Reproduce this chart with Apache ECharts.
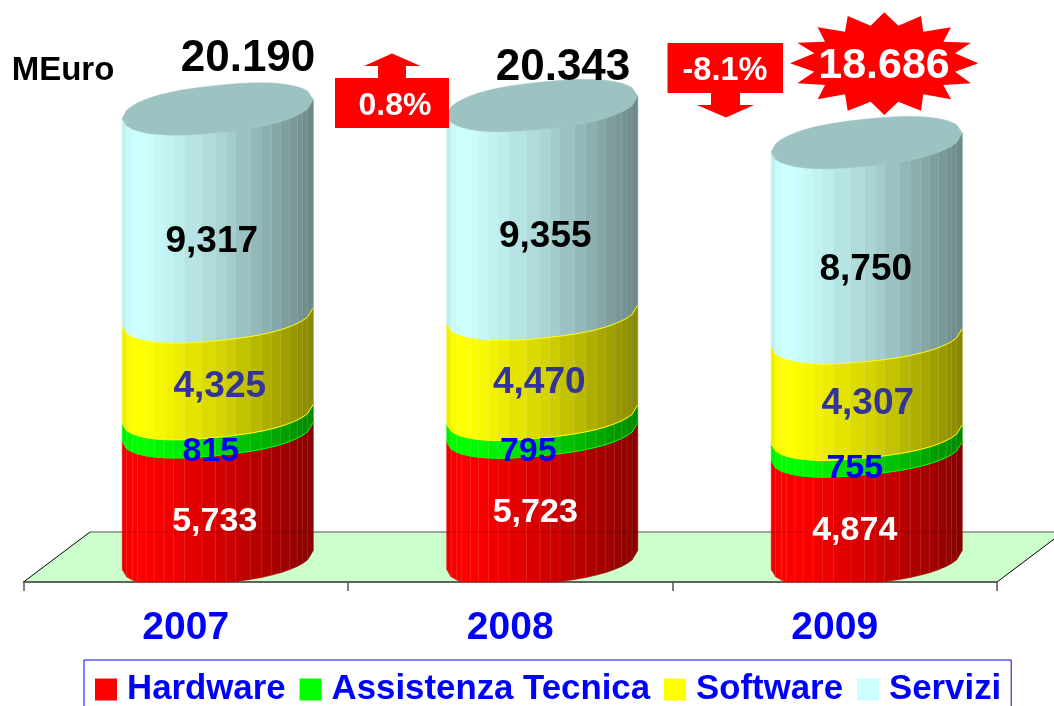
<!DOCTYPE html>
<html>
<head>
<meta charset="utf-8">
<title>MEuro 2007-2009</title>
<script src="https://cdn.jsdelivr.net/npm/echarts@6/dist/echarts.min.js"></script>
<style>
  html, body { margin: 0; padding: 0; background: #fff; overflow: hidden; }
  #main { width: 1054px; height: 706px; }
</style>
</head>
<body>
<div id="main"></div>
<script>
// data
const years = ['2007', '2008', '2009'];
const hardware = [5733, 5723, 4874];
const assistenza = [815, 795, 755];
const software = [4325, 4470, 4307];
const servizi = [9317, 9355, 8750];
const layerNames = ['Hardware', 'Assistenza Tecnica', 'Software', 'Servizi'];
const totals = ['20.190', '20.343', '18.686'];
const changes = ['0.8%', '-8.1%'];

// look of the layers
const FONT = '"Liberation Sans", Arial, sans-serif';
const layerColors = [[255, 0, 0], [0, 255, 0], [255, 255, 0], [204, 255, 255]];
const legendColors = ['#FF0000', '#00FF00', '#FFFF00', '#CCFFFF'];
const edgeColors = ['#FF0000', '#00FF00', '#FFFF00', '#FFFF00'];
const labelColors = ['#FFFFFF', '#0000FF', '#333399', '#000000'];
const labelSizes = [34, 34, 37, 37];
// the labels were placed by hand in the original: dx, dy per layer and year
const labelNudge = [
  [[-3, 1], [-7, 4], [2, -3], [-6, 4]],
  [[-7, -8], [-14, 4], [-3, -6], [3, 2]],
  [[-12, 1], [-12, 1], [1, -7], [-1, 5]]
];
const textDrop = 2.5; // Liberation sits a bit high with middle alignment

// fake 3d: cylinder sits behind the axis plane
const depthX = 32, depthY = -22;
const radiusX = 95.5, radiusY = 23.5, tilt = 9.5, roundness = 2.5;
const floorX = 66.5, floorY = -50;
const facetEdges = [367, 380, 397, 412, 438, 462, 492, 520, 553, 605, 645, 677, 705, 749, 782, 813, 840, 867, 889, 905, 920, 937]
  .map(v => (v - 367) / 570);
const shadeStops = [[0, 0.92], [0.05, 1], [0.12, 1], [0.5, 0.84], [0.75, 0.69], [1, 0.53]];

function shade (u) {
  for (let i = 1; i < shadeStops.length; i++) {
    if (u <= shadeStops[i][0]) {
      const a = shadeStops[i - 1], b = shadeStops[i];
      return a[1] + (b[1] - a[1]) * (u - a[0]) / (b[0] - a[0]);
    }
  }
  return 1;
}

function facetColor (rgb, u) {
  const k = shade(u);
  return 'rgb(' + rgb.map(c => Math.round(c * k)).join(',') + ')';
}

// points along one half of the tilted, slightly squared ellipse
function arc (cx, cy, side, maxY) {
  return facetEdges.map(u => {
    const c = 2 * u - 1;
    const round = Math.sqrt(1 - Math.pow(Math.abs(c), roundness));
    const y = cy + side * radiusY * round - tilt * c;
    return [cx + radiusX * c, Math.min(y, maxY)];
  });
}

function layerRenderer (layer) {
  return function (params, api) {
    const i = api.value(0);
    const from = api.value(1), to = api.value(2);
    const base = api.coord([i, from]);
    const top = api.coord([i, to]);
    const axisY = api.coord([i, 0])[1];
    const cx = base[0] + depthX;
    const lower = arc(cx, base[1] + depthY, 1, axisY);
    const upper = arc(cx, top[1] + depthY, 1, axisY);
    const children = [];

    for (let f = 0; f < facetEdges.length - 1; f++) {
      const fill = facetColor(layerColors[layer], (facetEdges[f] + facetEdges[f + 1]) / 2);
      children.push({
        type: 'polygon',
        shape: { points: [upper[f], upper[f + 1], lower[f + 1], lower[f]] },
        style: { fill: fill, stroke: fill, lineWidth: 0.6 },
        silent: true
      });
      if (f > 0) {
        children.push({
          type: 'line',
          shape: { x1: upper[f][0], y1: upper[f][1], x2: lower[f][0], y2: lower[f][1] },
          style: { stroke: '#fff', lineWidth: 1, opacity: 0.09 },
          z2: 2,
          silent: true
        });
      }
    }

    if (layer > 0) {
      children.push({
        type: 'polyline',
        shape: { points: lower },
        style: { stroke: edgeColors[layer], lineWidth: 1, fill: 'none' },
        z2: 3,
        silent: true
      });
    } else {
      // back edge of the floor shows faintly through the red part
      const backY = axisY + floorY;
      children.push({
        type: 'line',
        shape: { x1: cx - radiusX, y1: backY, x2: cx + radiusX, y2: backY },
        style: { stroke: '#000', lineWidth: 1, opacity: 0.15 },
        z2: 3,
        silent: true
      });
    }

    if (layer === layerNames.length - 1) {
      const back = arc(cx, top[1] + depthY, -1, axisY);
      children.push({
        type: 'polygon',
        shape: { points: upper.concat(back.slice().reverse()) },
        style: { fill: '#9CC2C1', stroke: '#9CC2C1', lineWidth: 0.6 },
        z2: 4,
        silent: true
      });
    }

    const nudge = labelNudge[i][layer];
    children.push({
      type: 'text',
      x: cx + nudge[0],
      y: api.coord([i, (from + to) / 2])[1] + nudge[1] + textDrop,
      style: {
        text: (to - from).toLocaleString('en-US'),
        fill: labelColors[layer],
        font: 'bold ' + labelSizes[layer] + 'px ' + FONT,
        align: 'center',
        verticalAlign: 'middle'
      },
      z2: 100,
      silent: true
    });
    return { type: 'group', children: children };
  };
}

function floorRenderer (params) {
  const g = params.coordSys;
  const y0 = g.y + g.height;
  const x0 = g.x, x1 = g.x + g.width;
  return {
    type: 'group',
    children: [
      {
        type: 'polygon',
        shape: { points: [[x0, y0], [x0 + floorX, y0 + floorY], [x1 + floorX, y0 + floorY], [x1, y0]] },
        style: { fill: '#CCFFCC' },
        silent: true
      },
      {
        type: 'line',
        shape: { x1: x0 + floorX, y1: y0 + floorY, x2: x1 + floorX, y2: y0 + floorY },
        style: { stroke: '#555', lineWidth: 1.2 },
        silent: true
      },
      {
        type: 'line',
        shape: { x1: x0, y1: y0, x2: x0 + floorX, y2: y0 + floorY },
        style: { stroke: '#000', lineWidth: 1 },
        silent: true
      },
      {
        type: 'line',
        shape: { x1: x1, y1: y0, x2: x1 + floorX, y2: y0 + floorY },
        style: { stroke: '#000', lineWidth: 1 },
        silent: true
      }
    ]
  };
}

const layerValues = [hardware, assistenza, software, servizi];
const running = years.map(() => 0);
const layerSeries = layerNames.map((name, layer) => ({
  name: name,
  type: 'custom',
  coordinateSystem: 'cartesian2d',
  clip: false,
  z: 2,
  itemStyle: { color: legendColors[layer] },
  encode: { x: 0, y: [1, 2] },
  renderItem: layerRenderer(layer),
  data: years.map((y, i) => {
    const start = running[i];
    running[i] += layerValues[layer][i];
    return [i, start, running[i]];
  })
}));

function bigText (text, x, y, size, color) {
  return {
    type: 'text',
    x: x,
    y: y + textDrop,
    z: 20,
    silent: true,
    style: {
      text: text,
      fill: color,
      font: 'bold ' + size + 'px ' + FONT,
      align: 'center',
      verticalAlign: 'middle'
    }
  };
}

function redShape (points) {
  return { type: 'polygon', z: 10, silent: true, shape: { points: points }, style: { fill: '#FF0000' } };
}

// callouts and totals are annotations sitting on top of the chart
const annotations = [
  bigText('MEuro', 63, 68.5, 33, '#000'),
  bigText(totals[0], 248, 56, 44, '#000'),
  bigText(totals[1], 563, 65, 44, '#000'),
  redShape([[335, 78], [378, 78], [378, 66], [364, 66], [392, 53.5], [420.5, 66], [406, 66], [406, 78], [449, 78], [449, 128], [335, 128]]),
  bigText(changes[0], 395, 104, 32, '#fff'),
  redShape([[667.5, 43], [783, 43], [783, 93], [740, 93], [740, 105], [754, 105], [726, 117.5], [697, 105], [711, 105], [711, 93], [667.5, 93]]),
  bigText(changes[1], 725, 69, 32.5, '#fff'),
  redShape([
    [884.3, 12.3], [898.3, 25.7], [921, 16], [923.3, 31.7], [951, 27.3], [943.3, 41.7], [971, 42.7], [955, 53.3],
    [978.3, 63.3], [955, 71.7], [971, 83.3], [943.3, 85], [951, 99.3], [923.3, 94.3], [921, 110.7], [898.3, 101.7],
    [884.3, 115], [870.7, 101.7], [847.7, 110.7], [845, 94.3], [817.7, 99.3], [825, 85], [797.3, 83.3], [814.3, 71.7],
    [790, 63.3], [814.3, 53.3], [797.3, 42.7], [825, 41.7], [817.7, 27.3], [845, 31.7], [847.7, 16], [870.7, 25.7]
  ]),
  bigText(totals[2], 884, 64, 43, '#fff')
];

const chart = echarts.init(document.getElementById('main'));
chart.setOption({
  animation: false,
  tooltip: { show: false },
  grid: { left: 23.5, width: 973.5, top: 23.5, height: 558.5 },
  xAxis: {
    type: 'category',
    data: years,
    boundaryGap: true,
    axisLine: { lineStyle: { color: '#333', width: 1.5 } },
    axisTick: { show: true, alignWithLabel: false, length: 9, lineStyle: { color: '#555', width: 1.5 } },
    axisLabel: {
      margin: 27,
      color: '#0000FF',
      fontFamily: FONT,
      fontWeight: 'bold',
      fontSize: 39,
      interval: 0
    }
  },
  yAxis: { type: 'value', show: false, min: 0, max: 25000, splitLine: { show: false } },
  legend: {
    left: 84,
    top: 660,
    orient: 'horizontal',
    padding: [12, 10, 14, 11],
    itemGap: 14,
    itemWidth: 22,
    itemHeight: 22,
    borderColor: '#0000FF',
    borderWidth: 1,
    selectedMode: false,
    textStyle: { color: '#0000FF', fontFamily: FONT, fontWeight: 'bold', fontSize: 34.8, padding: [0, 0, 0, 5] },
    data: layerNames.map((name, k) => ({ name: name, icon: 'rect', itemStyle: { color: legendColors[k] } }))
  },
  graphic: { elements: annotations },
  series: [{
    name: 'floor',
    type: 'custom',
    coordinateSystem: 'cartesian2d',
    clip: false,
    z: -1,
    renderItem: floorRenderer,
    data: [[0, 0]]
  }].concat(layerSeries)
});
</script>
</body>
</html>
